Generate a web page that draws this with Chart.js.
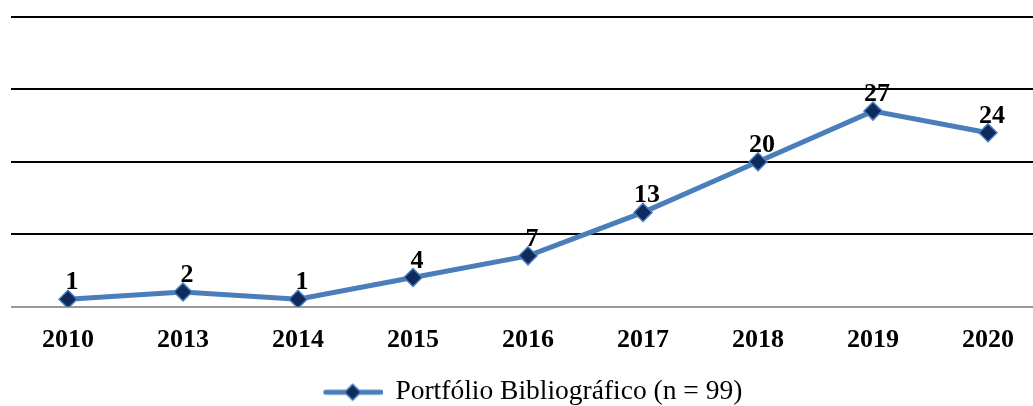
<!DOCTYPE html>
<html>
<head>
<meta charset="utf-8">
<script src="https://cdn.jsdelivr.net/npm/chart.js@4"></script>
<style>
  html, body { margin: 0; padding: 0; background: #fff; overflow: hidden; }
</style>
</head>
<body>
<canvas id="myChart" width="1056" height="406"></canvas>
<script>
const years = ["2010", "2013", "2014", "2015", "2016", "2017", "2018", "2019", "2020"];
const counts = [1, 2, 1, 4, 7, 13, 20, 27, 24];
const seriesName = "Portfólio Bibliográfico (n = 99)";

const lineBlue = "#4A7EBB";
const markerFill = "#0F2B5E";
const serif = "'Liberation Serif', 'Times New Roman', serif";

// legend symbol: short line with a diamond in the middle
const legendIcon = document.createElement("canvas");
legendIcon.width = 60;
legendIcon.height = 20;
(() => {
  const c = legendIcon.getContext("2d");
  c.strokeStyle = lineBlue;
  c.lineWidth = 5;
  c.lineCap = "round";
  c.beginPath();
  c.moveTo(3, 10);
  c.lineTo(58, 10);
  c.stroke();
  c.fillStyle = markerFill;
  c.strokeStyle = lineBlue;
  c.lineWidth = 1.5;
  c.beginPath();
  c.moveTo(30, 2);
  c.lineTo(38, 10);
  c.lineTo(30, 18);
  c.lineTo(22, 10);
  c.closePath();
  c.fill();
  c.stroke();
})();

const valueLabels = {
  id: "valueLabels",
  afterDatasetsDraw(chart) {
    const ctx = chart.ctx;
    const meta = chart.getDatasetMeta(0);
    ctx.save();
    ctx.font = "bold 26px " + serif;
    ctx.fillStyle = "#000";
    ctx.textAlign = "center";
    ctx.textBaseline = "alphabetic";
    meta.data.forEach((pt, i) => {
      ctx.fillText(String(counts[i]), pt.x + 4, pt.y - 10);
    });
    ctx.restore();
  }
};

new Chart(document.getElementById("myChart"), {
  type: "line",
  data: {
    labels: years,
    datasets: [
      {
        label: seriesName,
        data: counts,
        borderColor: lineBlue,
        borderWidth: 5,
        pointStyle: "rectRot",
        pointRadius: 9,
        pointHoverRadius: 9,
        pointBackgroundColor: markerFill,
        pointBorderColor: lineBlue,
        pointBorderWidth: 1.5,
        tension: 0,
      },
    ],
  },
  options: {
    responsive: false,
    animation: false,
    layout: { padding: { left: 10, top: 17, right: 0, bottom: -10 } },
    scales: {
      x: {
        offset: true,
        grid: { display: false },
        border: { display: false },
        ticks: {
          color: "#000",
          padding: 10,
          font: { family: serif, size: 26, weight: "bold" },
        },
        afterFit(scale) { scale.height = 70; },
      },
      y: {
        min: 0,
        max: 40,
        ticks: { stepSize: 10, display: false },
        border: { display: false },
        grid: {
          drawTicks: false,
          lineWidth: 2,
          color: (c) => (c.tick && c.tick.value === 0 ? "#9A9A9A" : "#000"),
        },
      },
    },
    plugins: {
      tooltip: { enabled: false },
      legend: {
        position: "bottom",
        labels: {
          color: "#000",
          usePointStyle: true,
          pointStyleWidth: 58,
          padding: 2,
          font: { family: serif, size: 27.5 },
          generateLabels: () => [
            {
              text: seriesName,
              pointStyle: legendIcon,
              fillStyle: markerFill,
              strokeStyle: lineBlue,
              lineWidth: 0,
              datasetIndex: 0,
            },
          ],
        },
      },
    },
  },
  plugins: [valueLabels],
});
</script>
</body>
</html>
